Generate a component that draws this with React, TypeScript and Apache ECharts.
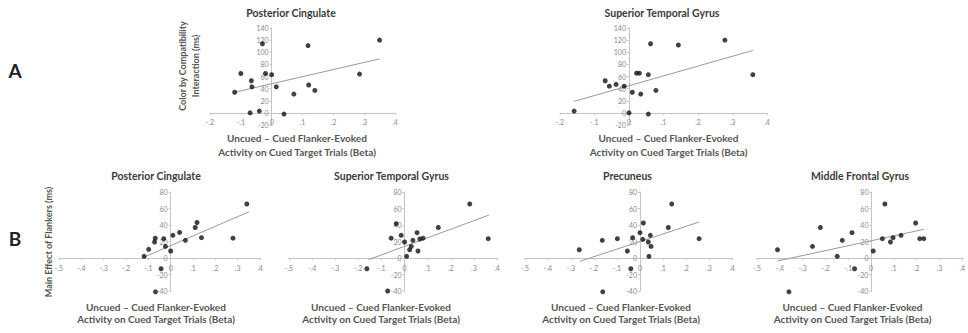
import React, { useEffect, useRef } from "react";
import * as echarts from "echarts";

// Panel A – Posterior Cingulate
const a1X = [-0.12, -0.10, -0.066, -0.064, -0.07, -0.04, -0.03, -0.02, 0.0, 0.015, 0.04, 0.072, 0.118, 0.12, 0.14, 0.285, 0.35];
const a1Y = [34, 65, 53, 43, 0, 3, 114, 65, 63, 43, -2, 31, 111, 46, 37, 64, 120];
const a1TrendX = [-0.12, 0.35];
const a1TrendY = [34, 89];

// Panel A – Superior Temporal Gyrus
const a2X = [-0.159, -0.069, -0.057, -0.0375, -0.014, 0.0, 0.0096, 0.022, 0.03, 0.034, 0.056, 0.056, 0.0625, 0.078, 0.143, 0.278, 0.359];
const a2Y = [3, 53, 44, 47, 44, 0, 34, 65.5, 65.5, 31, 63, -2, 114, 37, 112, 120, 63];
const a2TrendX = [-0.159, 0.359];
const a2TrendY = [19, 103];

// Panel B – Posterior Cingulate
const b1X = [-0.119, -0.0985, -0.069, -0.072, -0.031, -0.0235, 0.0, 0.01, 0.04, 0.066, 0.11, 0.118, 0.138, 0.279, 0.341, -0.043, -0.068];
const b1Y = [2, 10.5, 24, 19.4, 23.4, 14, 8.5, 27.5, 31, 21.4, 37, 43, 24.6, 24, 65.5, -13, -41];
const b1TrendX = [-0.12, 0.35];
const b1TrendY = [1, 56];

// Panel B – Superior Temporal Gyrus
const b2X = [-0.163, -0.073, -0.058, -0.036, -0.0146, 0.0, 0.009, 0.022, 0.029, 0.036, 0.054, 0.058, 0.066, 0.08, 0.146, 0.282, 0.362];
const b2Y = [-13, -40, 24, 41.6, 27.5, 19.4, 2, 10, 14, 21.4, 30.7, 8.5, 23, 24, 37, 65.5, 23.4];
const b2TrendX = [-0.156, 0.365];
const b2TrendY = [-2, 52];

// Panel B – Precuneus
const b3X = [-0.264, -0.164, -0.0985, -0.055, -0.04, -0.032, -0.162, 0.0, 0.012, 0.0145, 0.036, 0.039, 0.045, 0.048, 0.123, 0.138, 0.257];
const b3Y = [10, 21.4, 23.4, 8.5, -13, 24.6, -41, 30.7, 22.6, 42.4, 19.4, 2, 27.5, 14, 37, 65.5, 23.4];
const b3TrendX = [-0.261, 0.257];
const b3TrendY = [-4, 43.6];

// Panel B – Middle Frontal Gyrus
const b4X = [-0.41, -0.36, -0.2565, -0.222, -0.148, -0.126, -0.083, -0.072, 0.01, 0.05, 0.061, 0.0855, 0.097, 0.132, 0.196, 0.214, 0.232];
const b4Y = [10, -41, 14, 37, 2, 21.4, 30.7, -13, 8.5, 23.4, 65.5, 19.4, 24.6, 27.5, 42.4, 23.4, 23.4];
const b4TrendX = [-0.41, 0.232];
const b4TrendY = [-3.6, 34.7];

const titles = [
  "Posterior Cingulate",
  "Superior Temporal Gyrus",
  "Posterior Cingulate",
  "Superior Temporal Gyrus",
  "Precuneus",
  "Middle Frontal Gyrus",
];
const xTitle1 = "Uncued \u2013 Cued Flanker-Evoked";
const xTitle2 = "Activity on Cued Target Trials (Beta)";
const yTitleA1 = "Color by Compatibility";
const yTitleA2 = "Interaction (ms)";
const yTitleB = "Main Effect of Flankers (ms)";

const FONT = "Lato, 'Noto Sans', sans-serif";

const zip = (xs: number[], ys: number[]) => xs.map((x, i) => [x, ys[i]]);

export default function App() {
  const ref = useRef<HTMLDivElement>(null);
  useEffect(() => {
    if (!ref.current) return;
    const chart = echarts.init(ref.current, undefined, { renderer: "svg" });

    const panels = [
      { x: a1X, y: a1Y, tx: a1TrendX, ty: a1TrendY, grid: { left: 210, top: 28, width: 185, height: 97 }, xmin: -0.2, xmax: 0.4, ymin: -20, ymax: 140, title: [291, 13], xt: [297, 137.5, 151.5] },
      { x: a2X, y: a2Y, tx: a2TrendX, ty: a2TrendY, grid: { left: 560, top: 28, width: 207, height: 97 }, xmin: -0.2, xmax: 0.4, ymin: -20, ymax: 140, title: [662, 13], xt: [668.5, 137.5, 151.5] },
      { x: b1X, y: b1Y, tx: b1TrendX, ty: b1TrendY, grid: { left: 59, top: 192, width: 201, height: 99 }, xmin: -0.5, xmax: 0.4, ymin: -40, ymax: 80, title: [156, 175.5], xt: [156, 306.5, 318.5] },
      { x: b2X, y: b2Y, tx: b2TrendX, ty: b2TrendY, grid: { left: 289, top: 192, width: 208, height: 99 }, xmin: -0.5, xmax: 0.4, ymin: -40, ymax: 80, title: [391.5, 175.5], xt: [381, 306.5, 318.5] },
      { x: b3X, y: b3Y, tx: b3TrendX, ty: b3TrendY, grid: { left: 525, top: 192, width: 207, height: 99 }, xmin: -0.5, xmax: 0.4, ymin: -40, ymax: 80, title: [627.5, 175.5], xt: [621, 306.5, 318.5] },
      { x: b4X, y: b4Y, tx: b4TrendX, ty: b4TrendY, grid: { left: 757, top: 192, width: 206, height: 99 }, xmin: -0.5, xmax: 0.4, ymin: -40, ymax: 80, title: [860, 175.5], xt: [852.5, 306.5, 318.5] },
    ];

    const axisColor = "#c4c4c4";
    const labelColor = "#8a8a8a";

    const grids = panels.map((p) => ({ ...p.grid, containLabel: false }));
    const xAxes = panels.map((p, i) => ({
      type: "value",
      gridIndex: i,
      min: p.xmin,
      max: p.xmax,
      interval: 0.1,
      position: "bottom",
      // shift the axis from the grid's bottom edge up to y = 0 (Excel-style crossing)
      offset: -(p.grid.height * (0 - p.ymin)) / (p.ymax - p.ymin),
      axisLine: { onZero: false, lineStyle: { color: axisColor, width: 1 } },
      axisTick: { show: true, length: 2, lineStyle: { color: axisColor } },
      splitLine: { show: false },
      axisLabel: {
        fontSize: 7,
        color: labelColor,
        fontFamily: FONT,
        margin: 6,
        formatter: (v: number) => {
          const r = Math.round(v * 10) / 10;
          if (r === 0) return "0";
          return r.toFixed(1).replace("0.", ".");
        },
      },
    }));
    const yAxes = panels.map((p, i) => ({
      type: "value",
      gridIndex: i,
      min: p.ymin,
      max: p.ymax,
      interval: 20,
      position: "left",
      // shift the axis from the grid's left edge to x = 0
      offset: -(p.grid.width * (0 - p.xmin)) / (p.xmax - p.xmin),
      axisLine: { onZero: false, lineStyle: { color: axisColor, width: 1 } },
      axisTick: { show: true, length: 2, lineStyle: { color: axisColor } },
      splitLine: { show: false },
      axisLabel: { fontSize: 7, color: labelColor, fontFamily: FONT, margin: 3 },
    }));

    const series: any[] = [];
    panels.forEach((p, i) => {
      series.push({
        type: "line",
        xAxisIndex: i,
        yAxisIndex: i,
        data: zip(p.tx, p.ty),
        showSymbol: false,
        symbol: "none",
        clip: false,
        lineStyle: { color: "#9a9a9a", width: 1 },
        silent: true,
        z: 1,
      });
      series.push({
        type: "scatter",
        xAxisIndex: i,
        yAxisIndex: i,
        data: zip(p.x, p.y),
        symbolSize: 5,
        clip: false,
        itemStyle: { color: "#111" },
        z: 3,
      });
    });

    const graphics: any[] = [];
    panels.forEach((p, i) => {
      graphics.push({
        type: "text",
        x: p.title[0],
        y: p.title[1],
        style: { text: titles[i], align: "center", verticalAlign: "middle", fontSize: 10.5, fontWeight: "bold", fontFamily: FONT, fill: "#3a3a3a" },
      });
      graphics.push({
        type: "text",
        x: p.xt[0],
        y: p.xt[1],
        style: { text: xTitle1, align: "center", verticalAlign: "middle", fontSize: 10, fontWeight: "bold", fontFamily: FONT, fill: "#555" },
      });
      graphics.push({
        type: "text",
        x: p.xt[0],
        y: p.xt[2],
        style: { text: xTitle2, align: "center", verticalAlign: "middle", fontSize: 10, fontWeight: "bold", fontFamily: FONT, fill: "#555" },
      });
    });
    graphics.push(
      { type: "text", x: 182, y: 66, rotation: Math.PI / 2, style: { text: yTitleA1, align: "center", verticalAlign: "middle", fontSize: 9, fontWeight: "bold", fontFamily: FONT, fill: "#555" } },
      { type: "text", x: 195, y: 66, rotation: Math.PI / 2, style: { text: yTitleA2, align: "center", verticalAlign: "middle", fontSize: 9, fontWeight: "bold", fontFamily: FONT, fill: "#555" } },
      { type: "text", x: 48, y: 242, rotation: Math.PI / 2, style: { text: yTitleB, align: "center", verticalAlign: "middle", fontSize: 9, fontWeight: "bold", fontFamily: FONT, fill: "#555" } },
      { type: "text", x: 15, y: 70, style: { text: "A", align: "center", verticalAlign: "middle", fontSize: 19, fontWeight: "bold", fontFamily: FONT, fill: "#222" } },
      { type: "text", x: 15, y: 238, style: { text: "B", align: "center", verticalAlign: "middle", fontSize: 19, fontWeight: "bold", fontFamily: FONT, fill: "#222" } }
    );

    chart.setOption({
      animation: false,
      backgroundColor: "#fff",
      grid: grids,
      xAxis: xAxes,
      yAxis: yAxes,
      series,
      graphic: graphics,
    });
    return () => chart.dispose();
  }, []);
  return <div ref={ref} style={{ position: "absolute", left: 0, top: 0, width: 968, height: 333 }} />;
}
